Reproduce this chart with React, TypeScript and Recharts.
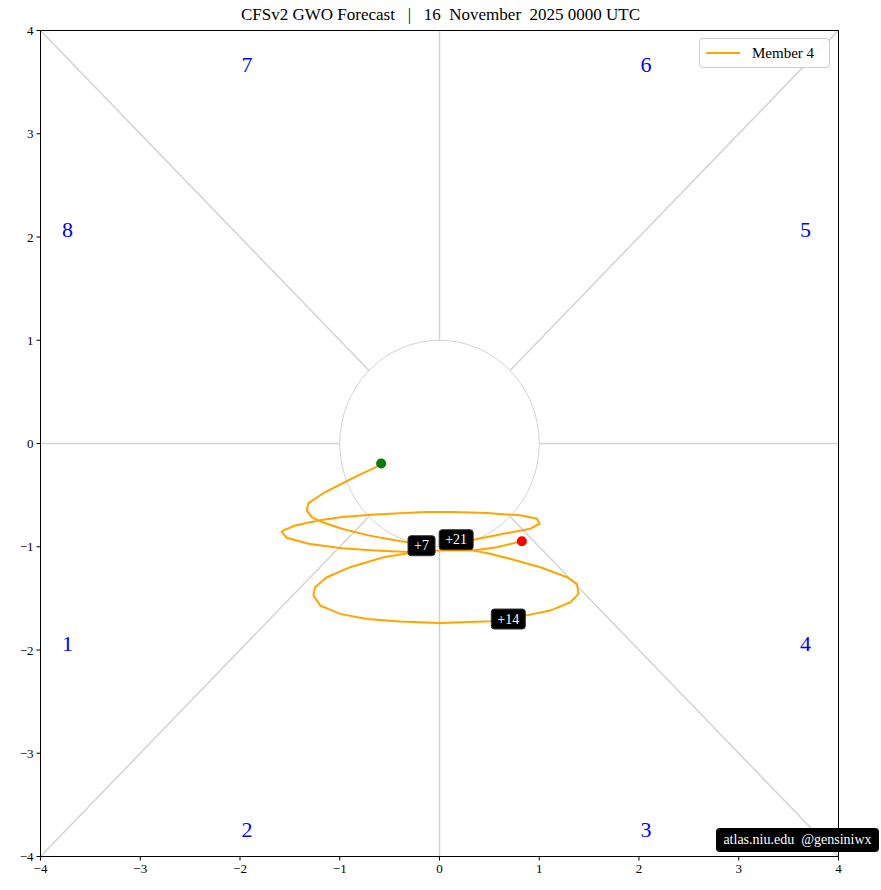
import React from 'react';
import {
  ComposedChart,
  Scatter,
  XAxis,
  YAxis,
  ReferenceLine,
  ReferenceDot,
} from 'recharts';

// ---- data ----
const trajX = [
  -0.585, -0.645, -0.778, -0.946, -1.146, -1.314, -1.33, -1.28, -1.18, -0.979, -0.712, -0.477, -0.277, -0.18,
  -0.244, -0.562, -0.896, -1.129, -1.247, -1.264, -1.194, -0.996, -0.728, -0.394, 0.007, 0.509, 0.69,
  0.86, 1.11, 1.311, 1.394, 1.378, 1.278, 1.01, 0.742, 0.509, 0.341, 0.167,
  0.341, 0.642, 0.91, 1.003, 0.977, 0.809, 0.475, 0.14, -0.143, -0.645, -0.979, -1.214, -1.447, -1.565, -1.581,
  -1.531, -1.314, -0.979, -0.645, -0.311, 0.007, 0.341, 0.576, 0.826,
];
const trajY = [
  -0.194, -0.233, -0.291, -0.373, -0.47, -0.577, -0.648, -0.713, -0.761, -0.825, -0.89, -0.932, -0.965, -0.99,
  -1.052, -1.101, -1.198, -1.295, -1.392, -1.473, -1.57, -1.65, -1.699, -1.725, -1.738, -1.722, -1.7,
  -1.667, -1.618, -1.538, -1.456, -1.359, -1.295, -1.198, -1.126, -1.068, -1.036, -0.932,
  -0.932, -0.874, -0.825, -0.777, -0.728, -0.696, -0.674, -0.664, -0.664, -0.687, -0.713, -0.745, -0.794, -0.842, -0.856,
  -0.913, -0.971, -1.014, -1.036, -1.052, -1.036, -1.036, -1.004, -0.946,
];
const dayLabels = ['+7', '+14', '+21'];
const dayIndex = [13, 26, 37];

const phaseNames = ['1', '2', '3', '4', '5', '6', '7', '8'];
const phaseX = [-3.73, -1.93, 2.07, 3.67, 3.67, 2.07, -1.93, -3.73];
const phaseY = [-1.94, -3.74, -3.74, -1.94, 2.07, 3.67, 3.67, 2.07];

const axisTicks = [-4, -3, -2, -1, 0, 1, 2, 3, 4];

const guideSegments = [
  [[0, 1], [0, 4]],
  [[0, -1], [0, -4]],
  [[1, 0], [4, 0]],
  [[-1, 0], [-4, 0]],
  [[0.707, 0.707], [4, 4]],
  [[-0.707, 0.707], [-4, 4]],
  [[0.707, -0.707], [4, -4]],
  [[-0.707, -0.707], [-4, -4]],
];

const TITLE = 'CFSv2 GWO Forecast \u00a0\u00a0|\u00a0\u00a0 16 \u00a0November \u00a02025 0000 UTC';
const SERIES_NAME = 'Member 4';

// ---- layout ----
const W = 881;
const H = 890;
const PLOT_L = 40.5;
const PLOT_T = 30.5;
const PLOT_R = 838.5;
const PLOT_B = 856.5;
const PLOT_W = PLOT_R - PLOT_L;
const PLOT_H = PLOT_B - PLOT_T;
const FONT = '"Liberation Serif", "DejaVu Serif", serif';

const traj = trajX.map((x, i) => ({ x, y: trajY[i] }));
const startPt = [traj[0]];
const endPt = [traj[traj.length - 1]];
const dayPts = dayIndex.map((idx, i) => ({ ...traj[idx], label: dayLabels[i] }));
const phasePts = phaseNames.map((n, i) => ({ x: phaseX[i], y: phaseY[i], label: n }));

const fmt = (v: number) => (v < 0 ? '\u2212' + Math.abs(v) : String(v));

const DayLabelShape = (props: any) => {
  const { cx, cy, payload } = props;
  const w = 13 + 7 * payload.label.length;
  const h = 20;
  return (
    <g>
      <rect x={cx - w / 2} y={cy - h / 2} width={w} height={h} rx={3} ry={3} fill="#000" stroke="#333" strokeWidth={1} />
      <text x={cx} y={cy} textAnchor="middle" dominantBaseline="central" fill="#fff" fontSize={14} fontFamily={FONT}>
        {payload.label}
      </text>
    </g>
  );
};

const PhaseShape = (props: any) => {
  const { cx, cy, payload } = props;
  return (
    <text x={cx} y={cy} textAnchor="middle" dominantBaseline="central" fill="#0000FF" fontSize={22} fontFamily={FONT}>
      {payload.label}
    </text>
  );
};

const dot = (color: string) => (props: any) => <circle cx={props.cx} cy={props.cy} r={5} fill={color} />;
const noShape = () => <g />;

const CircleShape = (props: any) => (
  <ellipse cx={props.cx} cy={props.cy} rx={PLOT_W / 8} ry={PLOT_H / 8} fill="none" stroke="#D3D3D3" strokeWidth={1} />
);

export default function App() {
  return (
    <div style={{ position: 'absolute', left: 0, top: 0, width: W, height: H, background: '#fff' }}>
      <ComposedChart
        width={W}
        height={H}
        margin={{ top: PLOT_T, right: W - PLOT_R, bottom: H - PLOT_B - 30, left: PLOT_L - 30 }}
        style={{ position: 'absolute', left: 0, top: 0 }}
      >
        <XAxis
          type="number"
          dataKey="x"
          domain={[-4, 4]}
          ticks={axisTicks}
          allowDataOverflow
          height={30}
          tickSize={4}
          tickMargin={3}
          tickFormatter={fmt}
          stroke="#000"
          tick={{ fill: '#000', fontSize: 13, fontFamily: FONT }}
        />
        <YAxis
          type="number"
          dataKey="y"
          domain={[-4, 4]}
          ticks={axisTicks}
          allowDataOverflow
          width={30}
          tickSize={4}
          tickMargin={3}
          tickFormatter={fmt}
          stroke="#000"
          tick={{ fill: '#000', fontSize: 13, fontFamily: FONT }}
        />
        {guideSegments.map((s, i) => (
          <ReferenceLine
            key={'g' + i}
            segment={[
              { x: s[0][0], y: s[0][1] },
              { x: s[1][0], y: s[1][1] },
            ]}
            stroke="#D3D3D3"
            strokeWidth={1.5}
            ifOverflow="visible"
          />
        ))}
        <ReferenceDot x={0} y={0} r={1} shape={CircleShape} ifOverflow="visible" />
        <ReferenceLine x={4} stroke="#000" strokeWidth={1} ifOverflow="visible" />
        <ReferenceLine y={4} stroke="#000" strokeWidth={1} ifOverflow="visible" />
        <Scatter data={phasePts} shape={PhaseShape} isAnimationActive={false} legendType="none" />
        <Scatter
          name={SERIES_NAME}
          data={traj}
          line={{ stroke: '#FFA500', strokeWidth: 2 }}
          lineType="joint"
          shape={noShape}
          isAnimationActive={false}
        />
        <Scatter data={startPt} shape={dot('#008000')} isAnimationActive={false} legendType="none" />
        <Scatter data={endPt} shape={dot('#FF0000')} isAnimationActive={false} legendType="none" />
        <Scatter data={dayPts} shape={DayLabelShape} isAnimationActive={false} legendType="none" />
      </ComposedChart>
      <div
        style={{
          position: 'absolute',
          left: 0,
          top: 5,
          width: W,
          textAlign: 'center',
          fontFamily: FONT,
          fontSize: 17,
          color: '#000',
          whiteSpace: 'pre',
        }}
      >
        {TITLE}
      </div>
      <div
        style={{
          position: 'absolute',
          left: 699,
          top: 38,
          border: '1px solid #cccccc',
          borderRadius: 4,
          background: 'rgba(255,255,255,0.85)',
          width: 131,
          height: 30,
          boxSizing: 'border-box',
          display: 'flex',
          alignItems: 'center',
          fontFamily: FONT,
          fontSize: 15,
          color: '#000',
        }}
      >
        <div style={{ width: 34, height: 2, background: '#FFA500', marginLeft: 6, marginRight: 12 }} />
        <span>{SERIES_NAME}</span>
      </div>
      <div
        style={{
          position: 'absolute',
          left: 716,
          top: 828,
          width: 163,
          height: 24,
          background: '#000',
          borderRadius: 4,
          color: '#fff',
          fontFamily: FONT,
          fontSize: 14,
          lineHeight: '24px',
          textAlign: 'center',
          whiteSpace: 'pre',
        }}
      >
        {'atlas.niu.edu  @gensiniwx'}
      </div>
    </div>
  );
}
